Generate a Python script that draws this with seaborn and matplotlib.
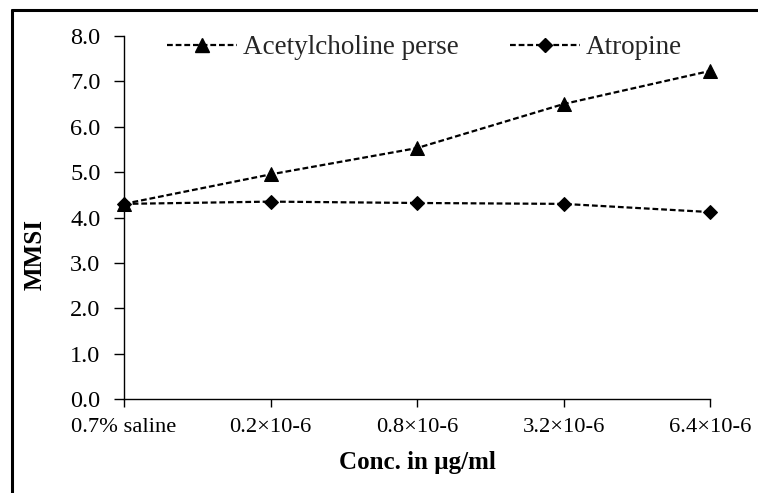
import matplotlib
matplotlib.use("Agg")
import matplotlib.pyplot as plt
import matplotlib.lines as mlines
import seaborn as sns
import pandas as pd

categories = ["0.7% saline", "0.2×10-6", "0.8×10-6", "3.2×10-6", "6.4×10-6"]
acetylcholine = [4.3, 4.95, 5.53, 6.5, 7.23]
atropine = [4.3, 4.35, 4.32, 4.3, 4.12]
series_names = ["Acetylcholine perse", "Atropine"]
y_ticks = [0.0, 1.0, 2.0, 3.0, 4.0, 5.0, 6.0, 7.0, 8.0]

sns.set_theme(style="white")
plt.rcParams["font.family"] = ["Liberation Serif", "DejaVu Serif"]

df = pd.DataFrame({
    "pos": list(range(len(categories))) * 2,
    "value": acetylcholine + atropine,
    "series": [series_names[0]] * len(categories) + [series_names[1]] * len(categories),
})

W, H = 758, 493
fig = plt.figure(figsize=(W / 100, H / 100), dpi=100)
ax = fig.add_axes([124 / W, 1 - 399 / H, (710 - 124) / W, (399 - 36) / H])

dash = (2.6, 1.3)
lw = 1.6
sns.lineplot(data=df, x="pos", y="value", hue="series", style="series",
             palette=["black", "black"], markers={series_names[0]: "^", series_names[1]: "D"},
             dashes={series_names[0]: dash, series_names[1]: dash},
             markersize=8, linewidth=lw, ax=ax, legend=False, sort=False)
for ln, ms in zip(ax.get_lines(), [10, 7]):
    ln.set_markersize(ms)
    ln.set_markeredgecolor("black")
    ln.set_clip_on(False)

ax.set_xlim(0, len(categories) - 1)
ax.set_ylim(0, 8)
ax.set_xticks(range(len(categories)))
ax.set_xticklabels(categories)
ax.set_yticks(y_ticks)
ax.set_yticklabels([f"{v:.1f}" for v in y_ticks])

for s in ["top", "right"]:
    ax.spines[s].set_visible(False)
for s in ["left", "bottom"]:
    ax.spines[s].set_color("black")
    ax.spines[s].set_linewidth(1.0)

ax.tick_params(axis="y", direction="out", length=7, width=1, color="black",
               labelsize=17.5, pad=10, left=True)
ax.tick_params(axis="x", direction="out", length=6, width=1, color="black",
               labelsize=16.2, pad=8, bottom=True)
for lbl in ax.get_xticklabels() + ax.get_yticklabels():
    lbl.set_color("black")

ax.set_xlabel("Conc. in µg/ml", fontsize=18, fontweight="bold", color="black")
ax.set_ylabel("MMSI", fontsize=18, fontweight="bold", color="black")
ax.xaxis.label.set_va("center")
ax.yaxis.label.set_va("center")
ax.xaxis.set_label_coords(0.5, -(462 - 399) / (399 - 36))
ax.yaxis.set_label_coords(-(124 - 35) / (710 - 124), (399 - 254) / (399 - 36))

h1 = mlines.Line2D([], [], color="black", linestyle=(0, dash), linewidth=lw,
                   marker="^", markersize=10)
h2 = mlines.Line2D([], [], color="black", linestyle=(0, dash), linewidth=lw,
                   marker="D", markersize=7)
fig.legend([h1, h2], series_names, ncol=2, frameon=False, loc="upper left",
           bbox_to_anchor=(167 / W, 1 - 35 / H), bbox_transform=fig.transFigure,
           fontsize=19.5, handlelength=2.6, borderpad=0, borderaxespad=0,
           columnspacing=1.9, handletextpad=0.2)

# figure frame (left and top)
fig.add_artist(mlines.Line2D([12 / W, 12 / W], [0, 1 - 10 / H], color="black",
                             linewidth=2.2, transform=fig.transFigure))
fig.add_artist(mlines.Line2D([12 / W, 1], [1 - 10 / H, 1 - 10 / H], color="black",
                             linewidth=2.2, transform=fig.transFigure))

fig.savefig("out.png", dpi=100)
